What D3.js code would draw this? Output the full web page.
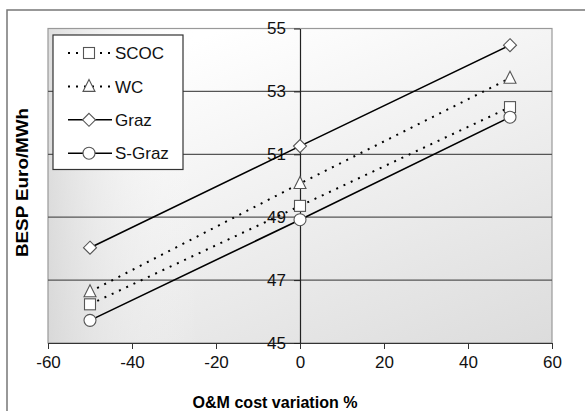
<!DOCTYPE html>
<html>
<head>
<meta charset="utf-8">
<script src="https://cdn.jsdelivr.net/npm/d3@7"></script>
<style>
  body { margin: 0; background: #fff; }
  svg { display: block; font-family: "Liberation Sans", Arial, sans-serif; }
</style>
</head>
<body>
<svg id="chart" width="585" height="411"></svg>
<script>
// data
const variation = [-50, 0, 50];
const scoc = [46.23, 49.36, 52.5];
const wc = [46.63, 50.07, 53.42];
const graz = [48.03, 51.26, 54.47];
const sGraz = [45.72, 48.92, 52.18];

const xTicks = [-60, -40, -20, 0, 20, 40, 60];
const yTicks = [45, 47, 49, 51, 53, 55];

const series = [
    {name: "SCOC", values: scoc, dash: "2,6", marker: "square"},
    {name: "WC", values: wc, dash: "2,6", marker: "triangle"},
    {name: "Graz", values: graz, dash: null, marker: "diamond"},
    {name: "S-Graz", values: sGraz, dash: null, marker: "circle"}
];

const svg = d3.select("#chart");
const plot = {left: 48, right: 552, top: 28.5, bottom: 343};

const x = d3.scaleLinear().domain([-60, 60]).range([plot.left, plot.right]);
const y = d3.scaleLinear().domain([45, 55]).range([plot.bottom, plot.top]);

// outer frame (runs off the right/bottom of the picture)
svg.append("rect")
    .attr("x", 7).attr("y", 10)
    .attr("width", 600).attr("height", 420)
    .attr("fill", "none")
    .attr("stroke", "#777")
    .attr("stroke-width", 1.5);

// plot background gradient
const defs = svg.append("defs");
const grad = defs.append("linearGradient")
    .attr("id", "bg")
    .attr("x1", "0.35").attr("y1", "0")
    .attr("x2", "1").attr("y2", "1");
grad.append("stop").attr("offset", "0").attr("stop-color", "#ffffff");
grad.append("stop").attr("offset", "1").attr("stop-color", "#dcdcdc");
const grad2 = defs.append("linearGradient")
    .attr("id", "bgLeft")
    .attr("x1", "0").attr("y1", "0")
    .attr("x2", "1").attr("y2", "0");
grad2.append("stop").attr("offset", "0").attr("stop-color", "#d0d0d0").attr("stop-opacity", 0.7);
grad2.append("stop").attr("offset", "0.3").attr("stop-color", "#ffffff").attr("stop-opacity", 0);

svg.append("rect")
    .attr("x", plot.left).attr("y", plot.top)
    .attr("width", plot.right - plot.left).attr("height", plot.bottom - plot.top)
    .attr("fill", "url(#bg)");
svg.append("rect")
    .attr("x", plot.left).attr("y", plot.top)
    .attr("width", plot.right - plot.left).attr("height", plot.bottom - plot.top)
    .attr("fill", "url(#bgLeft)")
    .attr("stroke", "#999")
    .attr("stroke-width", 1.2);

// horizontal gridlines
svg.append("g")
    .selectAll("line")
    .data(yTicks.filter(d => d > 45 && d < 55))
    .enter().append("line")
    .attr("x1", plot.left).attr("x2", plot.right)
    .attr("y1", d => y(d)).attr("y2", d => y(d))
    .attr("stroke", "#555")
    .attr("stroke-width", 1.2);

// plain hyphen minus like the original
const fmt = d => String(d);

// X axis along the bottom
const xAxis = svg.append("g")
    .attr("transform", "translate(0," + plot.bottom + ")")
    .call(d3.axisBottom(x).tickValues(xTicks).tickFormat(fmt).tickSize(6).tickSizeOuter(0).tickPadding(7));
xAxis.select(".domain").attr("stroke", "#333").attr("stroke-width", 1.2);
xAxis.selectAll(".tick line").attr("stroke", "#333");
xAxis.selectAll("text").attr("font-size", 17).attr("fill", "#111")
    .attr("font-family", "Liberation Sans, Arial, sans-serif");

// Y axis sitting at x = 0
const yAxis = svg.append("g")
    .attr("transform", "translate(" + x(0) + ",0)")
    .call(d3.axisLeft(y).tickValues(yTicks).tickFormat(fmt).tickSize(6).tickSizeOuter(0).tickPadding(8));
yAxis.select(".domain").attr("stroke", "#222").attr("stroke-width", 1.2);
yAxis.selectAll(".tick line").attr("stroke", "#222");
yAxis.selectAll("text").attr("font-size", 17).attr("fill", "#111")
    .attr("font-family", "Liberation Sans, Arial, sans-serif");

// axis titles
svg.append("text")
    .attr("x", 275).attr("y", 408)
    .attr("text-anchor", "middle")
    .attr("font-size", 16).attr("font-weight", "bold")
    .attr("textLength", 165).attr("lengthAdjust", "spacingAndGlyphs")
    .text("O&M cost variation %");
svg.append("text")
    .attr("transform", "translate(28,182.5) rotate(-90)")
    .attr("text-anchor", "middle")
    .attr("font-size", 16).attr("font-weight", "bold")
    .attr("textLength", 149).attr("lengthAdjust", "spacingAndGlyphs")
    .text("BESP Euro/MWh");

// marker shapes
function drawMarker(g, type, cx, cy) {
    const style = s => s.attr("fill", "#fff").attr("stroke", "#555").attr("stroke-width", 1.1);
    if (type === "square") {
        style(g.append("rect").attr("x", cx - 5.5).attr("y", cy - 5.5).attr("width", 11).attr("height", 11));
    } else if (type === "triangle") {
        style(g.append("path").attr("d", `M${cx},${cy - 7}L${cx + 6},${cy + 5}L${cx - 6},${cy + 5}Z`));
    } else if (type === "diamond") {
        style(g.append("path").attr("d", `M${cx},${cy - 6.5}L${cx + 6.5},${cy}L${cx},${cy + 6.5}L${cx - 6.5},${cy}Z`));
    } else {
        style(g.append("circle").attr("cx", cx).attr("cy", cy).attr("r", 6));
    }
}

const line = d3.line()
    .x((d, i) => x(variation[i]))
    .y(d => y(d));

const lines = svg.append("g");
series.forEach(s => {
    lines.append("path")
        .attr("d", line(s.values))
        .attr("fill", "none")
        .attr("stroke", "#000")
        .attr("stroke-width", s.dash ? 2 : 1.6)
        .attr("stroke-dasharray", s.dash);
});
const marks = svg.append("g");
series.forEach(s => {
    s.values.forEach((v, i) => drawMarker(marks, s.marker, x(variation[i]), y(v)));
});

// legend
const legend = svg.append("g");
legend.append("rect")
    .attr("x", 53).attr("y", 35)
    .attr("width", 130).attr("height", 134.5)
    .attr("fill", "#fff")
    .attr("stroke", "#333")
    .attr("stroke-width", 1.2);
series.forEach((s, i) => {
    const ly = 53 + i * 33.4;
    legend.append("line")
        .attr("x1", 68).attr("x2", 112)
        .attr("y1", ly).attr("y2", ly)
        .attr("stroke", "#000")
        .attr("stroke-width", s.dash ? 2 : 1.6)
        .attr("stroke-dasharray", s.dash);
    drawMarker(legend, s.marker, 89, ly);
    legend.append("text")
        .attr("x", 115).attr("y", ly)
        .attr("dy", "0.36em")
        .attr("font-size", 17)
        .attr("fill", "#111")
        .text(s.name);
});
</script>
</body>
</html>
